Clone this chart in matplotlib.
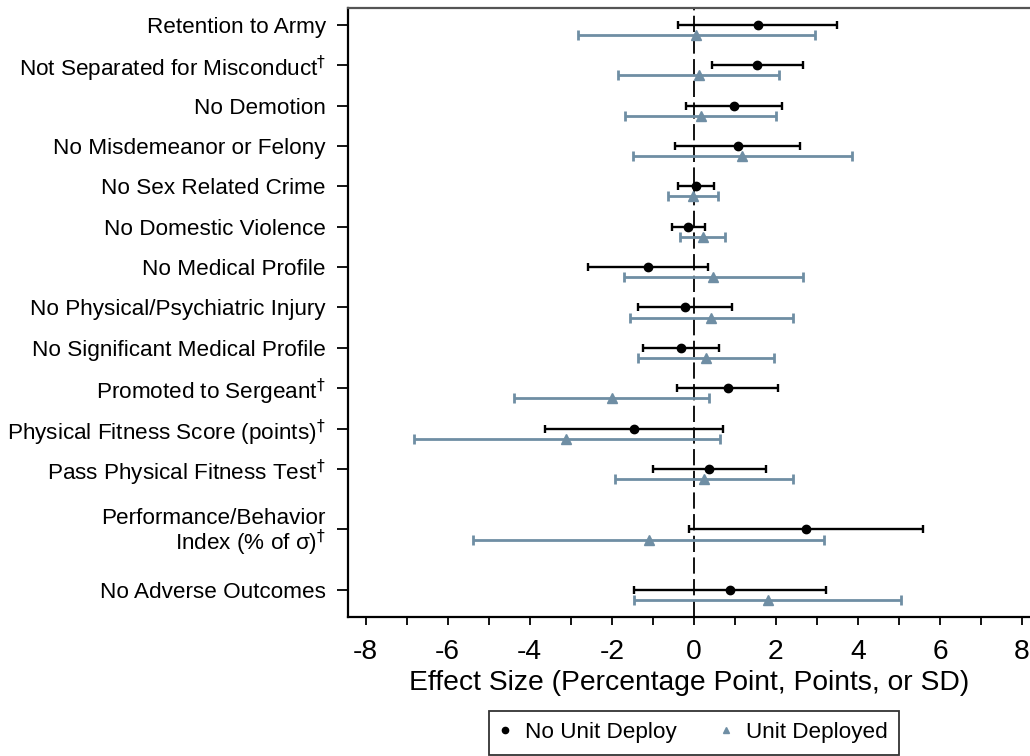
import matplotlib
matplotlib.use("Agg")
import matplotlib.pyplot as plt
import numpy as np
from matplotlib.lines import Line2D
from matplotlib.ticker import MultipleLocator

plt.rcParams['font.family'] = ['Liberation Sans', 'DejaVu Sans']

categories = [
    "Retention to Army",
    r"Not Separated for Misconduct$^{\dagger}$",
    "No Demotion",
    "No Misdemeanor or Felony",
    "No Sex Related Crime",
    "No Domestic Violence",
    "No Medical Profile",
    "No Physical/Psychiatric Injury",
    "No Significant Medical Profile",
    r"Promoted to Sergeant$^{\dagger}$",
    r"Physical Fitness Score (points)$^{\dagger}$",
    r"Pass Physical Fitness Test$^{\dagger}$",
    "Performance/Behavior\nIndex (% of σ)$^{\\dagger}$",
    "No Adverse Outcomes",
]

no_deploy_est = [1.56, 1.55, 0.98, 1.08, 0.05, -0.13, -1.12, -0.22, -0.32, 0.83, -1.45, 0.38, 2.73, 0.87]
no_deploy_lo  = [-0.38, 0.44, -0.18, -0.46, -0.39, -0.53, -2.59, -1.37, -1.25, -0.40, -3.62, -1.00, -0.11, -1.46]
no_deploy_hi  = [3.49, 2.65, 2.14, 2.60, 0.49, 0.27, 0.35, 0.92, 0.61, 2.04, 0.71, 1.75, 5.58, 3.22]

deployed_est = [0.06, 0.12, 0.17, 1.18, -0.01, 0.22, 0.47, 0.43, 0.30, -2.00, -3.11, 0.26, -1.10, 1.81]
deployed_lo  = [-2.83, -1.85, -1.67, -1.49, -0.62, -0.33, -1.71, -1.56, -1.35, -4.38, -6.83, -1.91, -5.38, -1.46]
deployed_hi  = [2.95, 2.08, 2.00, 3.85, 0.60, 0.76, 2.66, 2.42, 1.96, 0.37, 0.63, 2.42, 3.17, 5.06]

series_labels = ["No Unit Deploy", "Unit Deployed"]
x_ticks = [-8, -6, -4, -2, 0, 2, 4, 6, 8]
x_label = "Effect Size (Percentage Point, Points, or SD)"

# layout
W, H = 1030, 756
fig = plt.figure(figsize=(W / 100, H / 100), dpi=100)
ax = fig.add_axes([348 / W, 1 - 617 / H, 1 - 348 / W, (617 - 8) / H])

pos = np.arange(1, len(categories) + 1, dtype=float)
pos[12:] += np.array([0.5, 1.0])
offset = 0.25

blue = "#6f8ea4"
lab_fs = 16.2

e1 = np.array(no_deploy_est); l1 = np.array(no_deploy_lo); h1 = np.array(no_deploy_hi)
e2 = np.array(deployed_est); l2 = np.array(deployed_lo); h2 = np.array(deployed_hi)

ax.axvline(0, color="black", lw=1.3, dashes=(9, 3), zorder=1)

ax.errorbar(e2, pos + offset, xerr=[e2 - l2, h2 - e2], fmt="^", color=blue,
            ms=6.5, elinewidth=2.0, capsize=3.8, capthick=2.0, zorder=2)
ax.errorbar(e1, pos, xerr=[e1 - l1, h1 - e1], fmt="o", color="black",
            ms=6, elinewidth=1.7, capsize=3.0, capthick=1.7, zorder=3)

ax.set_xlim(-8.43, 8.195)
ax.set_ylim(15.67, 0.58)

ax.set_yticks(pos)
ax.set_yticklabels(categories, fontsize=lab_fs)
for lab in ax.get_yticklabels():
    lab.set_multialignment("right")
    if "\n" in lab.get_text():
        lab.set_linespacing(0.95)
ax.set_xticks(x_ticks)
ax.set_xticklabels([str(t) for t in x_ticks], fontsize=20.3)
ax.xaxis.set_minor_locator(MultipleLocator(1))
ax.set_xlabel(x_label, fontsize=20.3, labelpad=4)

ax.tick_params(axis="y", length=8, width=1.3, pad=8, color="black")
ax.tick_params(axis="x", which="both", length=6, width=1.3, pad=9.5)

for s in ["left", "bottom"]:
    ax.spines[s].set_linewidth(1.6)
    ax.spines[s].set_color("black")
ax.spines["top"].set_linewidth(1.6)
ax.spines["top"].set_color("#555555")
ax.spines["right"].set_visible(False)

handles = [
    Line2D([], [], marker="o", color="black", ls="none", ms=4.5),
    Line2D([], [], marker="^", color=blue, ls="none", ms=5),
]
leg = fig.legend(handles, series_labels, loc="upper center",
                 bbox_to_anchor=(694 / W, 1 - 711 / H), ncol=2, fontsize=lab_fs,
                 frameon=True, fancybox=False, edgecolor="black",
                 handlelength=0.4, handletextpad=0.69, columnspacing=2.0,
                 borderpad=0.5, borderaxespad=0)
leg.get_frame().set_linewidth(1.3)

fig.savefig("out.png", dpi=100)
